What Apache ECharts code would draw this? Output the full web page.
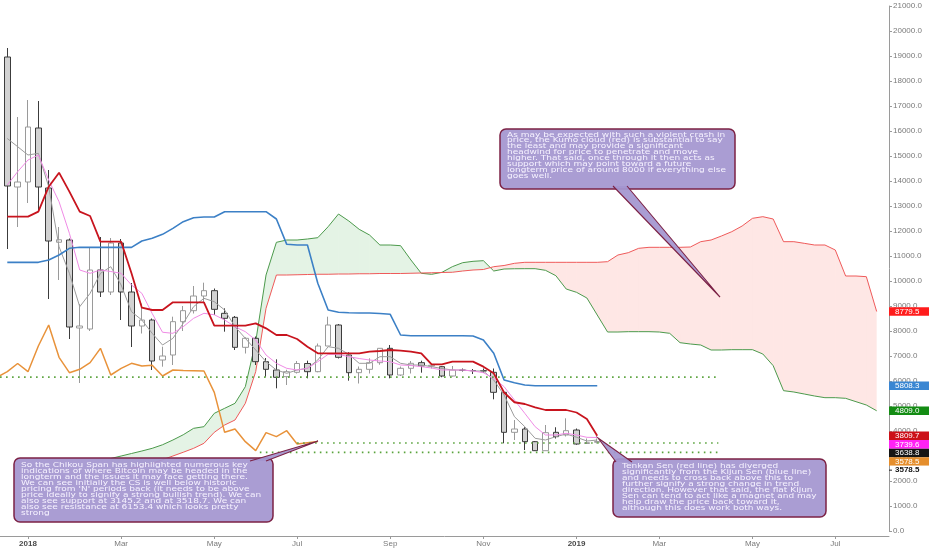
<!DOCTYPE html>
<html><head><meta charset="utf-8">
<script src="https://cdn.jsdelivr.net/npm/echarts@6/dist/echarts.min.js"></script>
<style>html,body{margin:0;padding:0;background:#fff}#c{width:932px;height:550px}</style>
</head><body><div id="c"></div>
<script>
// ---- data (weekly bars, index 0 = week of 18 Dec 2017) ----
const tickIndex = [2, 11, 20, 28, 37, 46, 55, 63, 72, 80];
const tickText = ['2018', 'Mar', 'May', 'Jul', 'Sep', 'Nov', '2019', 'Mar', 'May', 'Jul'];

const candleOpen  = [18960,13760,13960,16120,13720,11550,11640,8120,8080,10440,9560,11520,9560,8200,8440,6840,7040,8373,8813,9400,9613,8707,8547,7347,7707,6773,6440,6173,6347,6700,6373,7400,8240,7040,6333,6467,6733,7307,6240,6507,6733,6600,6573,6200,6440,6420,6413,6347,5547,3947,4080,3573,3213,3947,3840,4040,3500,3550];
const candleClose = [13800,13960,16160,13760,11600,11650,8160,8200,10440,9560,11520,9560,8200,8440,6800,7000,8373,8813,9400,9613,8867,8507,7347,7707,6773,6467,6147,6373,6700,6373,7400,8240,6947,6333,6467,6733,7307,6240,6507,6707,6600,6630,6200,6440,6420,6413,6400,5547,3947,4080,3573,3213,3933,3773,4013,3480,3533,3578.5];
const candleHigh  = [19320,16560,17240,17200,14440,12160,11700,9080,11320,11760,11720,11680,9920,9100,8500,7373,8573,9000,9800,9933,9700,8907,8600,7750,7780,6920,6867,6450,6800,6813,7500,8573,8280,7150,6580,6907,7300,7440,6580,6800,6813,6680,6600,6600,6500,6480,6500,6500,5600,4440,4150,3600,4240,4150,4507,4100,3700,3700];
const candleLow   = [11280,12160,13120,12840,9280,10040,7680,5920,8000,9360,9440,8440,7360,7900,6440,6573,6640,8000,8700,9150,8640,7973,7240,7100,6640,6173,5707,5840,6300,6107,6350,7400,6900,6013,5900,6300,6650,6107,6200,6300,6333,6500,6150,6180,6380,6280,6330,5267,3507,3640,3240,3200,3213,3700,3780,3450,3480,3500];

const tenkan = [12573,12573,12573,12773,13773,14333,13573,12773,12600,11573,11573,11573,10307,8933,8840,8840,9147,9147,9147,9147,8213,8213,8213,8213,8307,8107,7840,7840,7680,7373,7107,7107,7107,7107,7107,7173,7200,7240,7213,7173,7107,6667,6667,6773,6773,6773,6573,6307,5540,5150,5080,4947,4840,4840,4840,4740,4480,3809.7];
const kijun = [10747,10747,10747,10747,10840,11040,11307,11347,11347,11347,11347,11347,11347,11600,11707,11867,12107,12373,12533,12560,12560,12773,12773,12773,12773,12773,12480,11467,11440,11440,9907,8840,8747,8730,8720,8720,8700,8667,7840,7813,7813,7813,7813,7813,7813,7800,7640,7107,6040,5933,5840,5808.3,5808.3,5808.3,5808.3,5808.3,5808.3,5808.3];
const pinkMA = [13840,14373,14840,15040,14040,13173,11907,10440,10307,10440,10380,10307,9840,9507,8700,7950,7907,8173,8507,8707,8650,8440,8173,7973,7640,7040,6707,6507,6440,6507,6773,7067,7067,6973,6900,6840,6800,6773,6640,6620,6573,6520,6440,6440,6440,6400,6333,6107,5773,5240,4707,4173,3840,3840,3907,3840,3747,3739.6];
const grayMA = [15700,15373,15040,15107,13773,11373,10307,8973,9507,10307,10573,9840,8773,8440,7907,7440,7707,8307,8973,9307,9173,8840,8173,7707,7240,6773,6440,6307,6440,6507,6840,7373,7307,7067,6707,6707,6973,6973,6707,6640,6640,6573,6500,6440,6440,6400,6400,6040,5440,4573,4173,3707,3640,3773,3880,3750,3600,3638.8];
const chikouStart = -1;
const chikou = [6147,6373,6700,6373,7400,8240,6947,6333,6467,6733,7307,6240,6507,6707,6600,6630,6200,6440,6420,6413,6400,5547,3947,4080,3573,3213,3933,3773,4013,3480,3533,3578.5];

const senkouStart = 10;
const senkouA = [2900,3000,3100,3200,3307,3450,3640,3850,4107,4173,4707,4907,5107,5773,7573,10240,11547,11640,11640,11680,11733,12173,12680,12400,12067,11840,11440,11440,11413,10840,10307,10267,10347,10573,10733,10787,10813,10400,10480,10490,10493,10493,10427,10213,9680,9547,9320,8640,7960,7960,7973,7973,7973,7960,7907,7533,7480,7440,7240,7240,7253,7253,7253,7080,6613,5613,5560,5480,5400,5333,5333,5307,5173,5040,4809.0];
const senkouB = [2300,2400,2500,2600,2700,2850,3000,3150,3307,3507,3947,4240,4440,5107,6373,8907,10240,10240,10250,10260,10270,10270,10280,10280,10290,10290,10300,10300,10300,10310,10320,10330,10340,10350,10400,10440,10460,10573,10620,10707,10747,10747,10747,10747,10747,10747,10747,10747,10773,11040,11133,11307,11347,11347,11347,11347,11360,11573,11640,11800,11973,12200,12507,12573,12480,11573,11573,11507,11440,11440,11240,10200,10200,10173,8779.5];

const levelValues = [6153.4, 3518.7, 3145.2];
const levelFrom = [-0.7, 28.0, 24.4];
const levelTo = [68.7, 68.7, 68.7];

const tagValues = [8779.5, 5808.3, 4809.0, 3809.7, 3739.6, 3638.8, 3578.5, 3578.5];

const note1 = ['As may be expected with such a violent crash in','price, the Kumo cloud (red) is substantial to say','the least and may provide a significant','headwind for price to penetrate and move','higher. That said, once through it then acts as','support which may point toward a future','longterm price of around 8000 if everything else','goes well.'];
const note2 = ['So the Chikou Span has highlighted numerous key','indications of where Bitcoin may be headed in the','longterm and the issues it may face getting there.','We can see initially the CS is well below historic','pricing from \'N\' periods back (it needs to be above','price ideally to signify a strong bullish trend). We can','also see support at 3145.2 and at 3518.7. We can','also see resistance at 6153.4 which looks pretty','strong'];
const note3 = ['Tenkan Sen (red line) has diverged','significantly from the Kijun Sen (blue line)','and needs to cross back above this to','further signify a strong change in trend','direction. However that said, the flat Kijun','Sen can tend to act like a magnet and may','help draw the price back toward it,','although this does work both ways.'];

// ---- chart ----
const chart = echarts.init(document.getElementById('c'), null, {renderer: 'canvas'});
const idx = (arr, off) => arr.map((v, i) => [i + (off || 0), v]);
const cloudData = [];
for (let k = 0; k < senkouA.length - 1; k++) {
  cloudData.push([k + senkouStart, senkouA[k], senkouB[k], senkouA[k + 1], senkouB[k + 1]]);
}
const lineS = (data, color, width, z) => ({
  type: 'line', data, symbol: 'none', silent: true, z: z || 4,
  lineStyle: {color, width}, animation: false
});

const series = [
  {
    type: 'custom', z: 1, silent: true, data: cloudData, encode: {x: 0, y: [1, 2]},
    renderItem(params, api) {
      const i = api.value(0), a0 = api.value(1), b0 = api.value(2), a1 = api.value(3), b1 = api.value(4);
      const P = (x, y) => api.coord([x, y]);
      const G = 'rgba(76,175,80,0.15)', R = 'rgba(244,67,54,0.13)';
      const d0 = a0 - b0, d1 = a1 - b1;
      const ch = [];
      const poly = (pts, col) => ch.push({type: 'polygon', shape: {points: pts}, style: {fill: col, stroke: null}});
      if (d0 * d1 >= 0) {
        poly([P(i, a0), P(i + 1, a1), P(i + 1, b1), P(i, b0)], (d0 + d1) >= 0 ? G : R);
      } else {
        const t = d0 / (d0 - d1);
        const xc = i + t, yc = a0 + t * (a1 - a0);
        poly([P(i, a0), P(xc, yc), P(i, b0)], d0 > 0 ? G : R);
        poly([P(xc, yc), P(i + 1, a1), P(i + 1, b1)], d1 > 0 ? G : R);
      }
      return {type: 'group', children: ch};
    }
  },
  lineS(idx(senkouA, senkouStart), '#4c9a4c', 1, 2),
  lineS(idx(senkouB, senkouStart), '#ef5a5a', 1, 2),
  {
    type: 'candlestick', z: 3, silent: true,
    data: candleOpen.map((o, i) => [i, o, candleClose[i], candleLow[i], candleHigh[i]]),
    encode: {x: 0, y: [1, 2, 3, 4]},
    barWidth: 6,
    itemStyle: {color: '#ffffff', color0: '#d2d2d2', borderColor: '#9a9a9a', borderColor0: '#3c3c3c', borderWidth: 1}
  },
  lineS(idx(grayMA), '#9c9c9c', 1, 4),
  lineS(idx(pinkMA), '#f08be6', 1, 4),
  lineS(idx(kijun), '#3c80c6', 1.6, 5),
  lineS(idx(tenkan), '#c8141e', 1.8, 6),
  lineS(idx(chikou, chikouStart), '#e8923a', 1.5, 5)
];
levelValues.forEach((v, k) => {
  series.push({
    type: 'line', symbol: 'none', silent: true, z: 5,
    data: [[levelFrom[k], v], [levelTo[k], v]],
    lineStyle: {color: '#5aa33c', width: 1.6, type: [1.6, 4.4]}
  });
});

chart.setOption({
  animation: false,
  backgroundColor: '#ffffff',
  grid: {left: 0, right: 43, top: 6, bottom: 19, containLabel: false},
  xAxis: {
    type: 'value', min: -0.705, max: 85.19, offset: 5,
    splitLine: {show: false},
    axisLine: {show: true, onZero: false, lineStyle: {color: '#9a9a9a', width: 1}},
    axisTick: {show: true, length: 3, lineStyle: {color: '#9a9a9a'}, customValues: tickIndex},
    axisLabel: {
      customValues: tickIndex, margin: 4,
      fontFamily: 'Liberation Sans', fontSize: 8, color: '#7a7a7a',
      formatter: v => { const t = tickText[tickIndex.indexOf(Math.round(v))] || ''; return /^\d{4}$/.test(t) ? '{b|' + t + '}' : t; },
      rich: {b: {fontFamily: 'Liberation Sans', fontSize: 8, fontWeight: 'bold', color: '#4a4a4a'}}
    }
  },
  yAxis: {
    type: 'value', position: 'right', min: 0, max: 21000, interval: 1000,
    splitLine: {show: false},
    axisLine: {show: true, onZero: false, lineStyle: {color: '#9a9a9a', width: 1}},
    axisTick: {show: true, length: 3, lineStyle: {color: '#9a9a9a'}},
    axisLabel: {margin: 4, fontFamily: 'Liberation Sans', fontSize: 8, color: '#7a7a7a', formatter: v => v.toFixed(1)}
  },
  series
});

// ---- price tags on the right scale (positions from the axis) ----
const tagColors = ['#ff1c1c', '#3a86d2', '#138c13', '#cc1018', '#ff22f5', '#151515', '#e58e2c', null];
const axisX = chart.convertToPixel({xAxisIndex: 0}, 85.19);
const tags = tagValues.map((v, k) => ({v, k, y: chart.convertToPixel({yAxisIndex: 0}, v)}));
let prev = -1e9;
tags.forEach(t => { t.y = Math.max(t.y, prev + 8.6); prev = t.y; });
const g = [];
tags.forEach(t => {
  const col = tagColors[t.k];
  if (col) {
    g.push({type: 'rect', z: 200, shape: {x: axisX, y: t.y - 4.3, width: 40, height: 8.6}, style: {fill: col}});
    g.push({type: 'text', z: 201, x: axisX + 6, y: t.y, style: {text: t.v.toFixed(1), fill: '#ffffff', font: '8px "Liberation Sans"', verticalAlign: 'middle'}});
  } else {
    g.push({type: 'rect', z: 200, shape: {x: axisX + 1, y: t.y - 4.3, width: 39, height: 8.6}, style: {fill: '#ffffff'}});
    g.push({type: 'line', z: 201, shape: {x1: axisX, y1: t.y, x2: axisX + 3, y2: t.y}, style: {stroke: '#222', lineWidth: 1}});
    g.push({type: 'text', z: 201, x: axisX + 6, y: t.y, style: {text: t.v.toFixed(1), fill: '#111111', font: 'bold 8px "Liberation Sans"', verticalAlign: 'middle'}});
  }
});

// ---- callout annotations ----
const FILL = 'rgba(164,150,208,0.93)', EDGE = '#7c2245';
function callout(box, base, tip, lines, tx, ty, sy) {
  g.push({type: 'rect', z: 300, shape: {x: box[0], y: box[1], width: box[2], height: box[3], r: 6}, style: {fill: FILL, stroke: EDGE, lineWidth: 1.5}});
  g.push({type: 'polygon', z: 301, shape: {points: [base[0], base[1], tip]}, style: {fill: FILL, stroke: null}});
  g.push({type: 'polyline', z: 302, shape: {points: [base[0], tip, base[1]]}, style: {stroke: EDGE, lineWidth: 1.1, fill: null}});
  g.push({type: 'text', z: 303, x: tx, y: ty, scaleY: sy, style: {text: lines.join('\n'), fill: '#f6f2ff', font: '9px "DejaVu Sans"', lineHeight: 8, verticalAlign: 'top'}});
}
callout([500, 129, 235, 60], [[613, 186], [627, 186]], [720, 297], note1, 507, 132, 0.73);
callout([14, 458, 259, 64], [[250, 461], [266, 461]], [318, 441], note2, 21, 462, 0.76);
callout([613, 459, 213, 58], [[616, 462], [632, 462]], [598, 438], note3, 622, 463.5, 0.745);

chart.setOption({graphic: g});
</script></body></html>
